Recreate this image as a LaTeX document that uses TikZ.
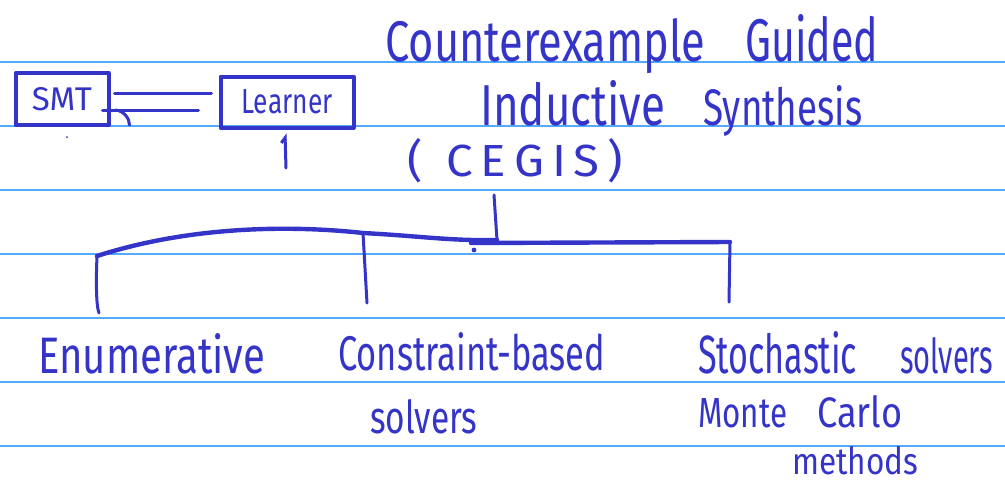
\documentclass[tikz,border=0pt]{standalone}
\usepackage{fontspec}
\setmainfont{Fira Sans}
\usepackage{graphicx}
\usetikzlibrary{arrows.meta}
\definecolor{ink}{HTML}{3434C8}
\definecolor{rulecol}{HTML}{55AAFF}
\newcommand{\hw}[3]{\resizebox{#1pt}{#2pt}{#3}}
\begin{document}
\begin{tikzpicture}[x=1pt,y=-1pt,
  pen/.style={draw=ink, line width=4.4pt, line cap=round, line join=round},
  thinpen/.style={draw=ink, line width=3pt, line cap=round, line join=round},
  txt/.style={inner sep=0pt, anchor=base west, text=ink},
  boxnode/.style={draw=ink, line width=4pt, inner sep=0pt, line join=round, text=ink},
  ruleline/.style={draw=rulecol, line width=1.8pt}]
\fill[white] (0,0) rectangle (1005,483);
\useasboundingbox (0,0) rectangle (1005,483);
\foreach \yy in {62,126,...,446} \draw[ruleline] (0,\yy) -- (1005,\yy);

% SMT / Learner loop
\node[boxnode, minimum width=93pt, minimum height=52pt] (smt) at (62,99) {\hw{60}{23}{SMT}};
\node[boxnode, minimum width=133pt, minimum height=51pt] (learner) at (287,102) {\hw{91}{24}{Learner}};
\draw[thinpen] ([yshift=6pt,xshift=4pt]smt.east) -- ([yshift=9pt,xshift=-7pt]learner.west);
\draw[thinpen] ([yshift=-11pt,xshift=-8pt]smt.east) -- ([yshift=-8pt,xshift=-20pt]learner.west);
\draw[thinpen] ([yshift=-11pt,xshift=5pt]smt.east) .. controls +(9,1) and +(0,-6) .. +(14,15);
\coordinate (lin) at (286,168);
\draw[thinpen, -{Straight Barb[left,length=5pt,width=8pt]}] (lin) -- ([xshift=-2pt,yshift=-4pt]learner.south);
\fill[ink] (67,137) circle (1);

% Title
\node[txt] (title1) at (385,61) {\hw{320}{43}{Counterexample}\hspace{40pt}\hw{133}{47}{Guided}};
\node[txt] (title2) at (480,125) {\hw{185}{45}{Inductive}\hspace{38pt}\hw{159}{40}{Synthesis}};
\node[txt] (cegis) at (407,176) {\hw{216}{38}{(\enspace C\,E\,G\,I\,S\,)}};

% Tree
\coordinate (stemtop) at (494,195);
\coordinate (j0) at (497,240);
\coordinate (lc) at (97,256);
\coordinate (lf) at (99,313);
\coordinate (mc) at (363,233);
\coordinate (mf) at (367,303);
\coordinate (ra) at (471,243);
\coordinate (rc) at (730,242);
\coordinate (rf) at (729,302);
\draw[thinpen] (stemtop) -- (j0);
\draw[pen] (lc) .. controls (190,226) and (290,225) .. (mc) .. controls (420,236) and (450,241) .. (j0);
\draw[pen] (ra) -- (rc);
\draw[thinpen] (lc) .. controls (96,280) and (96,305) .. (lf);
\draw[thinpen] (mc) -- (mf);
\draw[thinpen] (rc) -- (rf);
\fill[ink] (474,250) circle (2.4);

% Leaves
\node[txt] (enum) at (38,373) {\hw{227}{40}{Enumerative}};
\node[txt] (cons) at (338,370) {\hw{267}{38}{Constraint-based}};
\node[txt] (cons2) at (370,433) {\hw{107}{34}{solvers}};
\node[txt] (stoch) at (698,373) {\hw{159}{42}{Stochastic}\hspace{43pt}\hw{93}{36}{solvers}};
\node[txt] (monte) at (698,427) {\hw{89}{29}{Monte}\hspace{30pt}\hw{85}{32}{Carlo}};
\node[txt] (meth) at (792,474) {\hw{126}{28}{methods}};
\end{tikzpicture}
\end{document}
